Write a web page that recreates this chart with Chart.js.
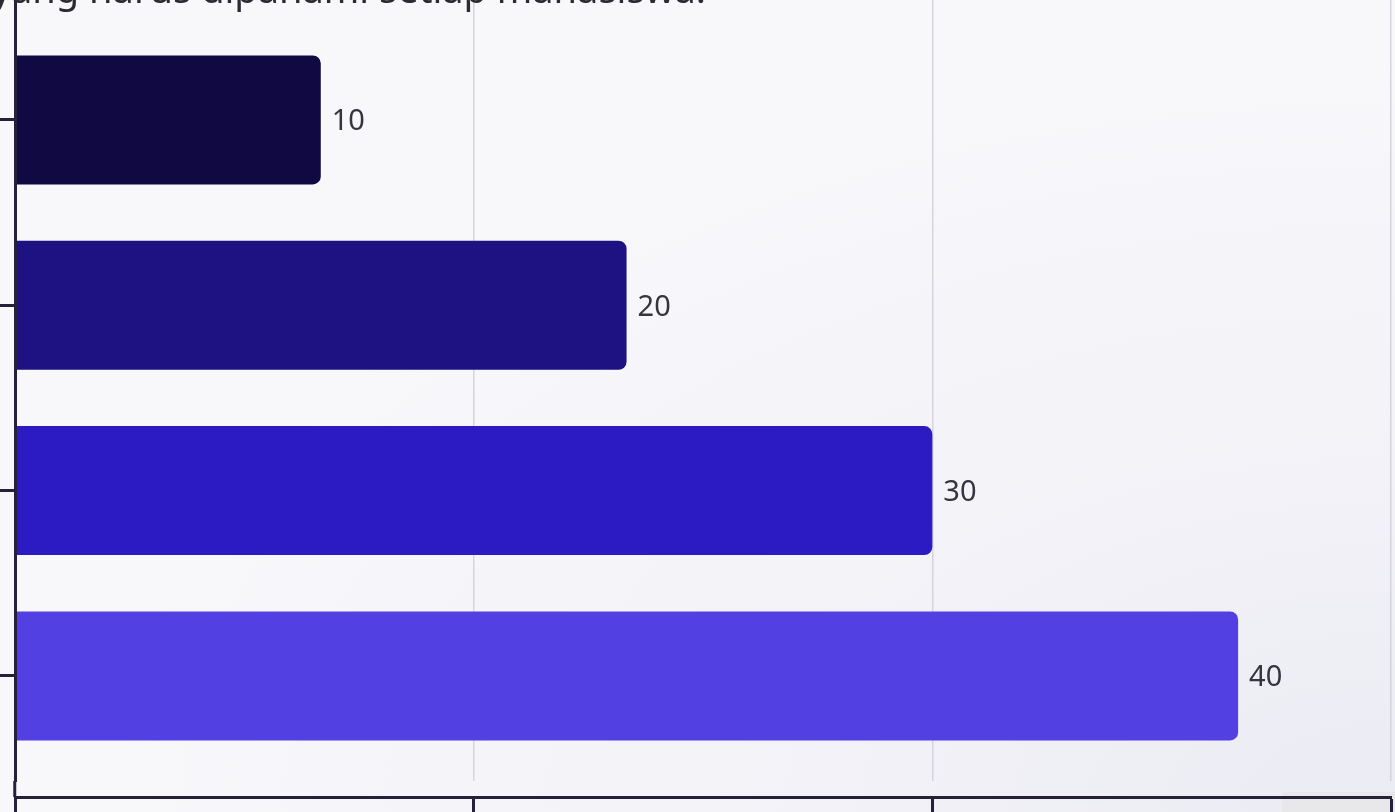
<!DOCTYPE html>
<html>
<head>
<meta charset="utf-8">
<script src="https://cdn.jsdelivr.net/npm/chart.js@4"></script>
<style>
  html, body { margin: 0; padding: 0; }
  body {
    width: 1395px; height: 812px; overflow: hidden; position: relative;
    background: radial-gradient(ellipse at 100% 100%, #ebebf3 0%, #f3f3f8 35%, #f8f8fb 65%);
    font-family: "Noto Sans", sans-serif;
  }
  #title {
    position: absolute; right: 689px; top: -31px;
    font-size: 38px; line-height: 38px; color: #2b2b33;
    white-space: nowrap; z-index: 2;
  }
  #corner { position: absolute; left: 1282px; top: 792px; width: 113px; height: 20px; background: #e8e8eb; }
  #wrap { position: absolute; left: 0; top: -40px; width: 1395px; height: 857px; z-index: 1; }
</style>
</head>
<body>
<div id="corner"></div>
<div id="title">yang harus dipahami setiap mahasiswa.</div>
<div id="wrap"><canvas id="chart"></canvas></div>
<script>
const values = [10, 20, 30, 40];
const barColors = ['#110a42', '#1e1282', '#2c1bc3', '#5240e3'];
const xTicks = [0, 15, 30, 45];

const axisColor = '#25213a';

// value labels at the end of each bar
const valueLabels = {
  id: 'valueLabels',
  afterDatasetsDraw(chart) {
    const ctx = chart.ctx;
    ctx.save();
    ctx.font = '29px "Noto Sans"';
    ctx.fillStyle = '#35343f';
    ctx.textAlign = 'left';
    ctx.textBaseline = 'middle';
    chart.getDatasetMeta(0).data.forEach((bar, i) => {
      ctx.fillText(String(values[i]), bar.x + 11, bar.y + 2);
    });
    ctx.restore();
  }
};

new Chart(document.getElementById('chart'), {
  type: 'bar',
  data: {
    datasets: [{
      data: values.map((v, i) => ({ x: v, y: i })),
      backgroundColor: barColors,
      borderRadius: 8,
      borderSkipped: 'start',
      categoryPercentage: 0.8,
      barPercentage: 0.87
    }]
  },
  options: {
    indexAxis: 'y',
    responsive: true,
    maintainAspectRatio: false,
    animation: false,
    layout: { padding: { top: 20, right: 4, bottom: 0, left: 0 } },
    plugins: { legend: { display: false }, tooltip: { enabled: false } },
    scales: {
      y: {
        type: 'linear',
        reverse: true,
        offset: false,
        min: -0.755,
        max: 3.567,
        ticks: { display: false, stepSize: 1, includeBounds: false },
        grid: { offset: false, drawOnChartArea: false, drawTicks: true, tickLength: 15, tickWidth: 3, tickColor: axisColor },
        border: { display: true, color: axisColor, width: 3, z: 1 }
      },
      x: {
        type: 'linear',
        position: 'bottom',
        weight: 0,
        min: xTicks[0],
        max: xTicks[xTicks.length - 1],
        ticks: { display: false, stepSize: 15 },
        grid: {
          color: '#d4d4dc',
          lineWidth: 1.5,
          drawTicks: true,
          tickLength: 16,
          tickWidth: 3,
          tickColor: (c) => (c.tick && c.tick.value === 0 ? axisColor : 'rgba(0,0,0,0)')
        },
        border: { display: false }
      },
      x2: {
        type: 'linear',
        position: 'bottom',
        weight: 1,
        min: xTicks[0],
        max: xTicks[xTicks.length - 1],
        ticks: { display: false, stepSize: 15 },
        grid: { drawOnChartArea: false, drawTicks: true, tickLength: 20, tickWidth: 3, tickColor: axisColor },
        border: { display: true, color: axisColor, width: 3, z: 1 }
      }
    }
  },
  plugins: [valueLabels]
});
</script>
</body>
</html>
